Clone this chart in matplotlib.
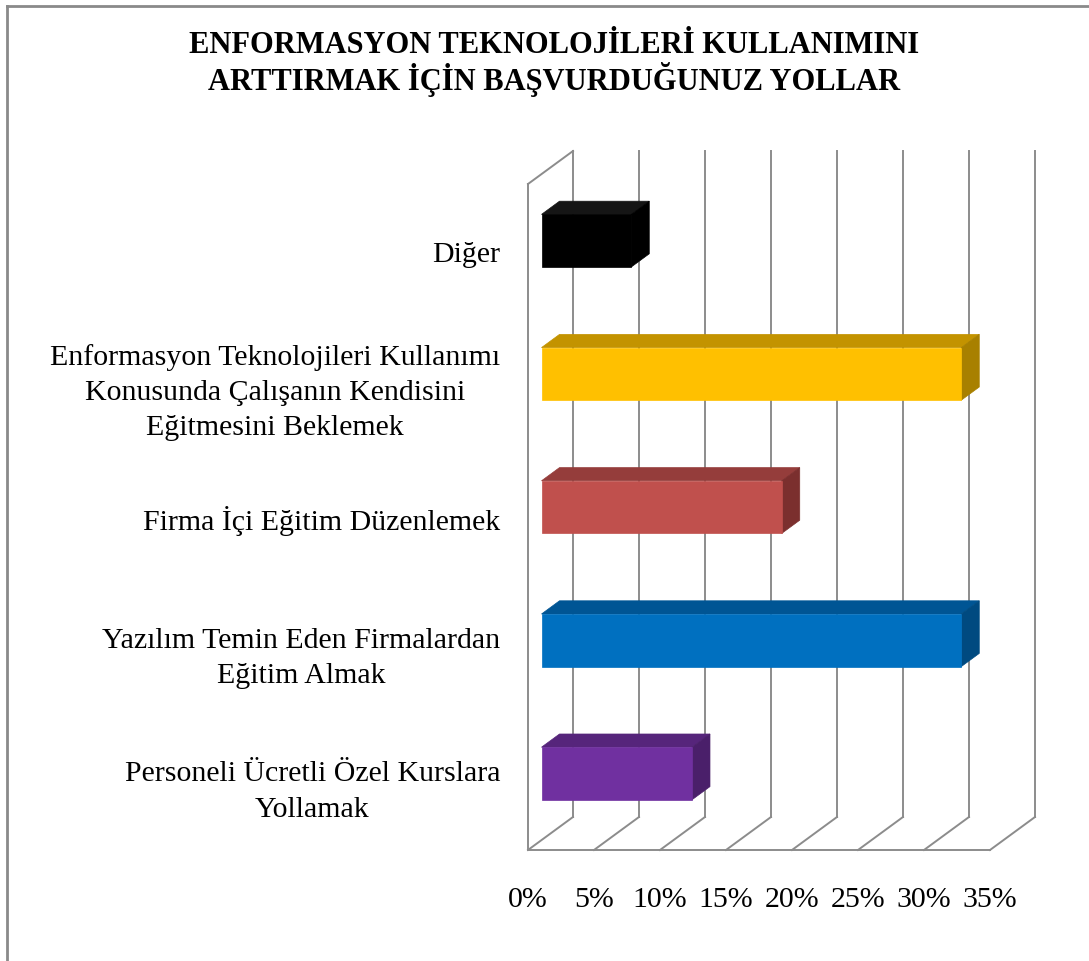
import matplotlib
matplotlib.use("Agg")
import matplotlib.pyplot as plt
from matplotlib.patches import Polygon
from matplotlib.lines import Line2D

# ---- data ----
categories = [
    "Personeli Ücretli Özel Kurslara\nYollamak",
    "Yazılım Temin Eden Firmalardan\nEğitim Almak",
    "Firma İçi Eğitim Düzenlemek",
    "Enformasyon Teknolojileri Kullanımı\nKonusunda Çalışanın Kendisini\nEğitmesini Beklemek",
    "Diğer",
]
values = [11.4, 31.8, 18.2, 31.8, 6.8]
front_colors = ["#7030A0", "#0070C0", "#C0504D", "#FFC000", "#000000"]
top_colors = ["#56257B", "#005594", "#953D3B", "#C39300", "#151515"]
side_colors = ["#4A1F6A", "#004A80", "#7B2F2E", "#A88000", "#000000"]
xticks = [0, 5, 10, 15, 20, 25, 30, 35]
xticklabels = ["0%", "5%", "10%", "15%", "20%", "25%", "30%", "35%"]
title = "ENFORMASYON TEKNOLOJİLERİ KULLANIMINI\nARTTIRMAK İÇİN BAŞVURDUĞUNUZ YOLLAR"

W, H = 1089, 962
fig = plt.figure(figsize=(W / 100, H / 100), dpi=100)
fig.patch.set_facecolor("white")

# plot area (front plane) in pixels
x0p, x1p, ybotp, ytopp = 528, 990, 851, 185
ax = fig.add_axes([x0p / W, (H - ybotp) / H, (x1p - x0p) / W, (ybotp - ytopp) / H])
xmax = 35
ncat = len(categories)
ax.set_xlim(0, xmax)
ax.set_ylim(0, ncat)
for s in ax.spines.values():
    s.set_visible(False)
ax.set_facecolor("none")

# depth vector (full depth) in data units
px_per_x = (x1p - x0p) / xmax
px_per_y = (ybotp - ytopp) / ncat
DX = 45 / px_per_x
DY = 33 / px_per_y

def P(x, y, d):
    return (x + d * DX, y + d * DY)

grid_c = "#8C8C8C"
lw = 1.4
# back wall vertical gridlines and floor diagonals
for t in xticks:
    a, b = P(t, 0, 1), P(t, ncat, 1)
    ax.add_line(Line2D([a[0], b[0]], [a[1], b[1]], color=grid_c, lw=lw, clip_on=False, zorder=1))
    c, e = P(t, 0, 0), P(t, 0, 1)
    ax.add_line(Line2D([c[0], e[0]], [c[1], e[1]], color=grid_c, lw=lw, clip_on=False, zorder=1))
# floor front edge
ax.add_line(Line2D([0, xmax], [0, 0], color=grid_c, lw=lw, clip_on=False, zorder=1))
# left wall front edge and top edge
ax.add_line(Line2D([0, 0], [0, ncat], color=grid_c, lw=lw, clip_on=False, zorder=1))
a, b = P(0, ncat, 0), P(0, ncat, 1)
ax.add_line(Line2D([a[0], b[0]], [a[1], b[1]], color=grid_c, lw=lw, clip_on=False, zorder=1))

# bars
d0, d1 = 0.3, 0.7
bh = 0.395
for i, v in enumerate(values):
    yc = i + 0.5
    yb, yt = yc - bh / 2, yc + bh / 2
    front = Polygon([P(0, yb, d0), P(v, yb, d0), P(v, yt, d0), P(0, yt, d0)],
                    closed=True, fc=front_colors[i], ec=front_colors[i], lw=0.5, zorder=3, clip_on=False)
    top = Polygon([P(0, yt, d0), P(v, yt, d0), P(v, yt, d1), P(0, yt, d1)],
                  closed=True, fc=top_colors[i], ec=top_colors[i], lw=0.5, zorder=2, clip_on=False)
    side = Polygon([P(v, yb, d0), P(v, yb, d1), P(v, yt, d1), P(v, yt, d0)],
                   closed=True, fc=side_colors[i], ec=side_colors[i], lw=0.5, zorder=2, clip_on=False)
    for p in (top, side, front):
        ax.add_patch(p)

serif = ["Liberation Serif", "DejaVu Serif"]
fs = 21.5
ax.set_xticks(xticks)
ax.set_xticklabels(xticklabels, fontsize=fs, family=serif)
ax.set_yticks([i + 0.5 for i in range(ncat)])
ax.set_yticklabels(categories, fontsize=fs, family=serif, multialignment="center", linespacing=1.46)
ax.tick_params(axis="x", length=0, pad=26)
ax.tick_params(axis="y", length=0, pad=20)

fig.text(554 / W, 1 - 64 / H, title, ha="center", va="center", fontsize=22,
         fontweight="bold", family=serif, linespacing=1.1)

# outer chart border (left and top visible)
fig.add_artist(Line2D([6.5 / W, 6.5 / W], [0, 1 - 6.5 / H], transform=fig.transFigure, color="#8A8A8A", lw=2))
fig.add_artist(Line2D([6.5 / W, 1], [1 - 6.5 / H, 1 - 6.5 / H], transform=fig.transFigure, color="#8A8A8A", lw=2))

fig.savefig("out.png", dpi=100, facecolor="white")
